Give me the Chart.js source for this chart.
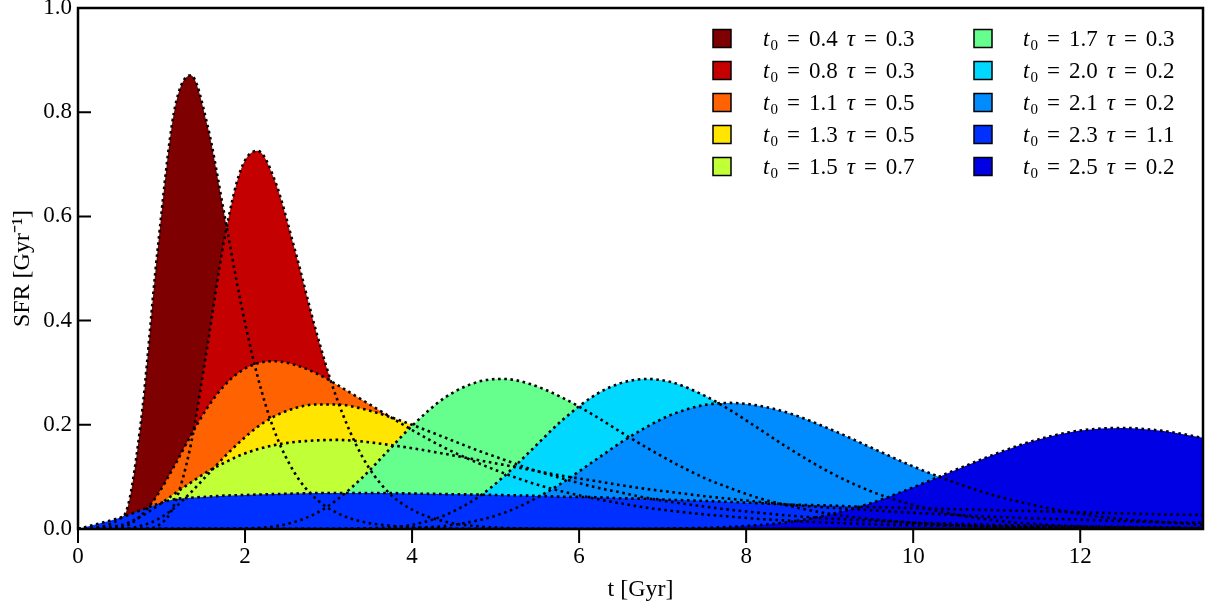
<!DOCTYPE html>
<html>
<head>
<meta charset="utf-8">
<script src="https://cdn.jsdelivr.net/npm/chart.js@4.4.1/dist/chart.umd.min.js"></script>
<style>
  html, body { margin: 0; padding: 0; background: #fff; }
  #wrap { width: 1211px; height: 610px; }
</style>
</head>
<body>
<div id="wrap"><canvas id="sfrChart"></canvas></div>
<script>
// Lognormal star formation histories

const ages = [0, 0.55, 0.75, 0.95, 1.15, 1.35, 1.55, 1.75, 1.95, 2.15,
    2.35, 2.6, 2.85, 3.1, 3.4, 3.7, 4.0, 4.4, 4.8, 5.1,
    5.4, 5.8, 6.2, 6.5, 6.8, 7.1, 7.5, 7.8, 8.1, 8.5,
    9.0, 9.5, 10.0, 10.5, 11.0, 11.5, 12.0, 12.5, 13.0, 13.47];

const t0Values = ['0.4', '0.8', '1.1', '1.3', '1.5', '1.7', '2.0', '2.1', '2.3', '2.5'];
const tauValues = ['0.3', '0.3', '0.5', '0.5', '0.7', '0.3', '0.2', '0.2', '1.1', '0.2'];

const fillColors = ['#7f0000', '#c40000', '#ff6200', '#ffe500', '#c1ff36',
    '#66ff8e', '#00d8ff', '#008cff', '#0030ff', '#0000e4'];

const sfr1 = [0, 0.026, 0.201, 0.531, 0.800, 0.871, 0.775, 0.606, 0.434, 0.293,
    0.189, 0.106, 0.058, 0.031, 0.014, 0.007, 0.003, 0.001, 0, 0,
    0, 0, 0, 0, 0, 0, 0, 0, 0, 0,
    0, 0, 0, 0, 0, 0, 0, 0, 0, 0];
const sfr2 = [0, 0, 0, 0.006, 0.046, 0.161, 0.352, 0.554, 0.690, 0.726,
    0.672, 0.534, 0.380, 0.250, 0.140, 0.073, 0.037, 0.014, 0.005, 0.002,
    0.001, 0, 0, 0, 0, 0, 0, 0, 0, 0,
    0, 0, 0, 0, 0, 0, 0, 0, 0, 0];
const sfr3 = [0, 0.005, 0.025, 0.065, 0.120, 0.179, 0.233, 0.275, 0.303, 0.318,
    0.322, 0.315, 0.299, 0.277, 0.248, 0.219, 0.190, 0.155, 0.126, 0.107,
    0.090, 0.072, 0.058, 0.049, 0.041, 0.035, 0.028, 0.024, 0.020, 0.016,
    0.012, 0.009, 0.007, 0.006, 0.004, 0.003, 0.003, 0.002, 0.002, 0.001];
const sfr4 = [0, 0.001, 0.006, 0.018, 0.040, 0.070, 0.104, 0.138, 0.169, 0.196,
    0.216, 0.232, 0.239, 0.239, 0.231, 0.217, 0.200, 0.175, 0.150, 0.133,
    0.116, 0.097, 0.080, 0.070, 0.060, 0.052, 0.043, 0.037, 0.032, 0.026,
    0.020, 0.016, 0.012, 0.010, 0.008, 0.006, 0.005, 0.004, 0.003, 0.002];
const sfr5 = [0, 0.009, 0.024, 0.044, 0.067, 0.089, 0.110, 0.127, 0.142, 0.153,
    0.161, 0.167, 0.170, 0.171, 0.168, 0.162, 0.155, 0.144, 0.132, 0.123,
    0.114, 0.102, 0.092, 0.084, 0.077, 0.071, 0.063, 0.058, 0.053, 0.047,
    0.041, 0.036, 0.031, 0.027, 0.023, 0.020, 0.018, 0.015, 0.013, 0.012];
const sfr6 = [0, 0, 0, 0, 0, 0, 0, 0, 0.001, 0.002,
    0.005, 0.014, 0.030, 0.056, 0.098, 0.148, 0.198, 0.253, 0.283, 0.288,
    0.279, 0.252, 0.216, 0.186, 0.157, 0.130, 0.098, 0.079, 0.062, 0.045,
    0.029, 0.019, 0.012, 0.007, 0.005, 0.003, 0.002, 0.001, 0.001, 0];
const sfr7 = [0, 0, 0, 0, 0, 0, 0, 0, 0, 0,
    0, 0, 0, 0, 0.001, 0.003, 0.008, 0.027, 0.062, 0.101,
    0.147, 0.209, 0.258, 0.280, 0.288, 0.282, 0.256, 0.229, 0.198, 0.156,
    0.109, 0.072, 0.046, 0.028, 0.016, 0.009, 0.005, 0.003, 0.002, 0.001];
const sfr8 = [0, 0, 0, 0, 0, 0, 0, 0, 0, 0,
    0, 0, 0, 0, 0, 0, 0.002, 0.006, 0.017, 0.031,
    0.052, 0.089, 0.133, 0.166, 0.195, 0.219, 0.238, 0.242, 0.238, 0.223,
    0.192, 0.156, 0.120, 0.089, 0.063, 0.044, 0.029, 0.019, 0.013, 0.008];
const sfr9 = [0, 0.024, 0.036, 0.048, 0.057, 0.060, 0.062, 0.064, 0.065, 0.066,
    0.067, 0.068, 0.069, 0.069, 0.069, 0.069, 0.068, 0.067, 0.066, 0.065,
    0.064, 0.062, 0.061, 0.059, 0.058, 0.056, 0.054, 0.052, 0.050, 0.047,
    0.045, 0.042, 0.040, 0.038, 0.036, 0.034, 0.032, 0.030, 0.028, 0.027];
const sfr10 = [0, 0, 0, 0, 0, 0, 0, 0, 0, 0,
    0, 0, 0, 0, 0, 0, 0, 0, 0, 0,
    0, 0, 0, 0, 0, 0.001, 0.002, 0.004, 0.007, 0.013,
    0.028, 0.050, 0.080, 0.113, 0.145, 0.172, 0.189, 0.194, 0.188, 0.175];

const sfrSeries = [sfr1, sfr2, sfr3, sfr4, sfr5, sfr6, sfr7, sfr8, sfr9, sfr10];

const xTicks = [0, 2, 4, 6, 8, 10, 12];
const yTicks = [0, 0.2, 0.4, 0.6, 0.8, 1.0];

const FONT = '"Liberation Serif", "Times New Roman", serif';

// frame, ticks (left inward, bottom outward) and the two-column legend
const frameAndLegend = {
    id: 'frameAndLegend',
    afterDraw(chart) {
        const {ctx, chartArea: a, scales: {x, y}} = chart;
        ctx.save();
        ctx.strokeStyle = '#000';
        ctx.lineWidth = 2;
        ctx.beginPath();
        yTicks.forEach(v => {
            const py = y.getPixelForValue(v);
            ctx.moveTo(a.left, py);
            ctx.lineTo(a.left + 13, py);
        });
        xTicks.forEach(v => {
            const px = x.getPixelForValue(v);
            ctx.moveTo(px, a.bottom);
            ctx.lineTo(px, a.bottom + 14);
        });
        ctx.stroke();
        ctx.lineWidth = 2.5;
        ctx.strokeRect(a.left, a.top, a.right - a.left, a.bottom - a.top);

        const patchX = [713, 974];
        const textX = [763, 1023];
        sfrSeries.forEach((_, i) => {
            const col = Math.floor(i / 5);
            const row = i % 5;
            const yMid = 38.5 + row * 32;
            ctx.fillStyle = fillColors[i];
            ctx.fillRect(patchX[col], yMid - 9, 18, 18);
            ctx.lineWidth = 1.5;
            ctx.strokeStyle = '#000';
            ctx.strokeRect(patchX[col], yMid - 9, 18, 18);
            drawLabel(ctx, textX[col], yMid + 7.5, t0Values[i], tauValues[i]);
        });
        ctx.restore();
    }
};

function drawLabel(ctx, x, base, t0, tau) {
    ctx.fillStyle = '#000';
    ctx.textAlign = 'left';
    ctx.textBaseline = 'alphabetic';
    let cx = x;
    const put = (txt, font, dy, gapAfter) => {
        ctx.font = font;
        ctx.fillText(txt, cx, base + dy);
        cx += ctx.measureText(txt).width + gapAfter;
    };
    const eq = () => {
        ctx.font = '23px ' + FONT;
        const w = ctx.measureText('=').width;
        ctx.fillText('=', cx + (17 - w) / 2, base);
        cx += 17 + 7;
    };
    put('t', 'italic 23px ' + FONT, 0, 1);
    put('0', '15px ' + FONT, 4, 7);
    eq();
    put(t0, '23px ' + FONT, 0, 9);
    put('τ', 'italic 23px ' + FONT, 0, 7);
    eq();
    put(tau, '23px ' + FONT, 0, 0);
}

const datasets = sfrSeries.map((vals, i) => ({
    label: `t₀ = ${t0Values[i]} τ = ${tauValues[i]}`,
    data: ages.map((t, k) => ({x: t, y: vals[k]})),
    backgroundColor: fillColors[i],
    borderColor: '#000',
    borderWidth: 2.6,
    borderDash: [2.6, 3.6],
    borderCapStyle: 'butt',
    fill: 'origin',
    pointRadius: 0,
    cubicInterpolationMode: 'monotone',
    order: -i
}));

new Chart(document.getElementById('sfrChart'), {
    type: 'line',
    data: {datasets: datasets},
    options: {
        responsive: true,
        maintainAspectRatio: false,
        animation: false,
        devicePixelRatio: 1,
        layout: {padding: {top: 8, right: 8, left: 0, bottom: 0}},
        scales: {
            x: {
                type: 'linear',
                min: 0,
                max: 13.47,
                grid: {display: false, drawTicks: false},
                border: {display: false},
                ticks: {
                    stepSize: 2,
                    includeBounds: false,
                    maxRotation: 0,
                    padding: 14,
                    color: '#000',
                    font: {family: FONT, size: 23}
                },
                title: {
                    display: true,
                    text: 't [Gyr]',
                    color: '#000',
                    font: {family: FONT, size: 24},
                    padding: {top: 0, bottom: 6}
                },
                afterFit: s => {
                    s.height = 81;
                    s.paddingLeft = 0;
                    s.paddingRight = 0;
                }
            },
            y: {
                min: 0,
                max: 1,
                grid: {display: false, drawTicks: false},
                border: {display: false},
                ticks: {
                    stepSize: 0.2,
                    padding: 6,
                    color: '#000',
                    font: {family: FONT, size: 23},
                    callback: v => v.toFixed(1)
                },
                title: {
                    display: true,
                    text: 'SFR [Gyr⁻¹]',
                    color: '#000',
                    font: {family: FONT, size: 24},
                    padding: {top: 8, bottom: 0}
                },
                afterFit: s => {
                    s.width = 78;
                    s.paddingTop = 0;
                    s.paddingBottom = 0;
                }
            }
        },
        plugins: {
            legend: {display: false},
            tooltip: {enabled: false},
            filler: {drawTime: 'beforeDatasetsDraw'}
        }
    },
    plugins: [frameAndLegend]
});
</script>
</body>
</html>
